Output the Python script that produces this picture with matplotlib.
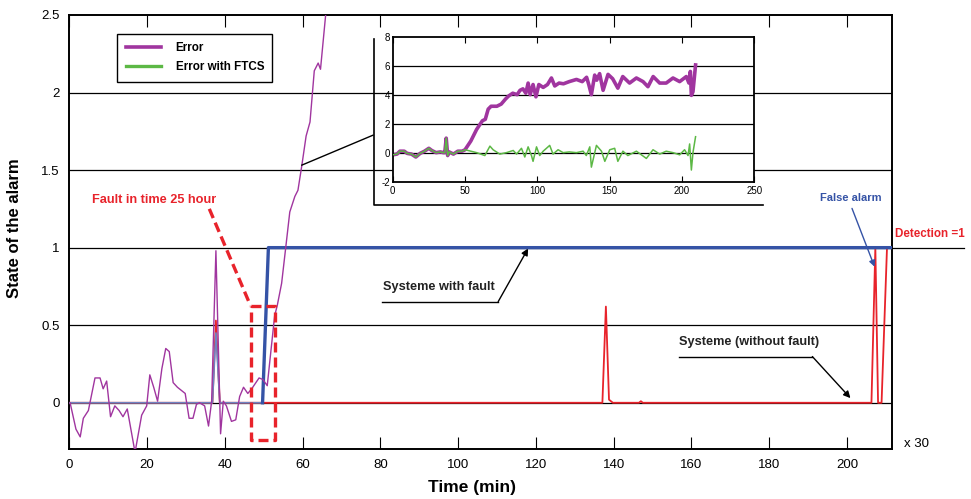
import matplotlib
matplotlib.use('Agg')
from matplotlib import pyplot as plt
from matplotlib.lines import Line2D

plt.rcParams['font.family'] = ['Liberation Sans', 'DejaVu Sans']
plt.rcParams['axes.unicode_minus'] = False

# error signal (main plot, thin purple)
err_t = [0.2, 1.7, 2.8, 3.6, 4.9, 6.6, 7.9, 8.7, 9.6, 10.6, 11.7, 12.8, 13.8, 14.9,
         16.9, 18.6, 19.9, 20.7, 21.7, 22.7, 23.8, 24.8, 25.7, 26.7, 27.8, 29.8,
         30.8, 31.8, 32.7, 33.5, 34.8, 35.8, 36.6, 37.7, 38.9, 39.6, 40.4, 41.7,
         42.8, 43.8, 44.8, 45.9, 46.9, 48.8, 49.8, 50.9, 52.8, 53.5, 54.6, 55.7,
         56.7, 58.0, 58.8, 59.8, 60.9, 61.9, 63.0, 64.0, 64.6, 66.0, 67.0]
err_v = [0.0, -0.17, -0.22, -0.10, -0.05, 0.16, 0.16, 0.09, 0.14, -0.09, -0.02, -0.05,
         -0.09, -0.04, -0.32, -0.08, -0.02, 0.18, 0.10, 0.01, 0.22, 0.35, 0.33, 0.13,
         0.10, 0.06, -0.10, -0.10, -0.01, 0.0, -0.02, -0.15, 0.01, 0.98, -0.20, 0.01,
         -0.02, -0.12, -0.11, 0.04, 0.10, 0.06, 0.09, 0.16, 0.15, 0.11, 0.56, 0.63,
         0.77, 1.01, 1.23, 1.33, 1.37, 1.53, 1.72, 1.81, 2.14, 2.19, 2.15, 2.52, 2.9]

# alarm state, system with fault (blue)
fault_t = [0, 36.8, 37.7, 38.7, 49.7, 51.2, 211.5]
fault_v = [0, 0, 0.45, 0, 0, 1, 1]

# alarm state, system without fault (red)
nofault_t = [0, 36.8, 37.7, 38.7, 137.1, 138.0, 138.8, 139.8, 146.5, 147.0, 147.5,
             206.3, 207.3, 208.0, 208.9, 210.3]
nofault_v = [0, 0, 0.53, 0, 0, 0.62, 0.02, 0, 0, 0.01, 0, 0, 1.0, 0, 0, 1.0]

# inset: error and error with FTCS
early_t = [0, 3, 5, 8, 10, 13, 16, 19, 22, 25, 27, 30, 33, 35, 36, 37, 38, 39, 42, 45, 48, 50]
early_v = [-0.15, -0.1, 0.1, 0.1, -0.05, -0.1, -0.3, -0.05, 0.1, 0.3, 0.15, 0.0, 0.05,
           0.0, 0.0, 1.0, -0.2, 0.05, -0.1, 0.1, 0.1, 0.2]
error_t = [54, 58, 62, 64, 66, 68, 72, 75, 78, 80, 83, 86, 88, 90, 92, 93.6, 95, 97, 99,
           101, 104, 107, 109.7, 112, 115, 118, 122, 127, 131, 134, 135.5, 137.3, 139.6,
           141, 143, 145.4, 148.8, 152, 155.6, 159, 163.7, 168.4, 173, 176.4, 180, 184.5,
           189, 193.7, 198.3, 202.9, 204.7, 205.7, 206.4, 207.5, 209.3]
error_v = [0.8, 1.6, 2.2, 2.3, 3.0, 3.2, 3.2, 3.35, 3.7, 3.9, 4.1, 4.0, 4.3, 4.4, 4.1, 4.8,
           4.0, 4.7, 3.85, 4.7, 4.5, 4.7, 5.15, 4.6, 4.8, 4.75, 4.9, 5.05, 4.9, 5.2, 4.7,
           4.0, 5.35, 5.0, 5.45, 4.3, 5.4, 5.1, 4.45, 5.25, 4.8, 5.15, 4.9, 4.55, 5.25,
           4.8, 4.8, 5.15, 4.9, 5.25, 4.8, 5.6, 3.95, 4.2, 6.05]
ftcs_t = [54, 58, 63.7, 67.2, 69.4, 74, 78.6, 83.3, 85.6, 89, 91.3, 93.6, 95.9, 97, 99.4,
          101.6, 104, 108.5, 110.8, 114.3, 117.8, 122, 127, 131.6, 133.8, 136.2, 137.3,
          140.8, 144.3, 146.6, 150, 153.4, 155.6, 159.1, 162.5, 168.4, 175.3, 179.9,
          184.5, 189, 193.7, 198.3, 201.7, 204.1, 205.2, 206.4, 207.5, 209.3]
ftcs_v = [0.1, 0.0, -0.2, 0.45, 0.2, -0.1, 0.0, 0.15, -0.1, 0.3, -0.3, 0.4, -0.2, -0.6,
          0.4, -0.2, 0.1, 0.5, -0.1, 0.2, 0.0, 0.05, 0.0, 0.1, -0.2, 0.4, -1.0, 0.5, 0.1,
          -0.6, 0.2, 0.3, -0.6, 0.1, -0.2, 0.1, -0.4, 0.2, -0.1, 0.1, 0.0, -0.15, 0.2,
          -0.2, 0.6, -1.2, 0.0, 1.1]

purple = '#a0359f'
green = '#5cb845'
red = '#e8232b'
blue = '#3553a6'

fig = plt.figure(figsize=(9.71, 4.99), dpi=100)
ax = fig.add_axes([0.0714, 0.0996, 0.8469, 0.8704])

for y in [0, 0.5, 1, 1.5, 2]:
    ax.axhline(y, color='black', lw=0.9, zorder=1)
# the y=1 line runs past the frame
ax.plot([211.5, 230], [1, 1], color='black', lw=0.9, clip_on=False)

ax.plot(nofault_t, nofault_v, color=red, lw=1.3, zorder=3)
ax.plot(fault_t[:5], fault_v[:5], color='#6f84c2', lw=1.2, zorder=4)
ax.plot(fault_t[4:], fault_v[4:], color=blue, lw=2.4, zorder=4)
ax.plot(err_t, err_v, color=purple, lw=1.0, zorder=5)

ax.set_xlim(0, 211.5)
ax.set_ylim(-0.3, 2.5)
ax.set_xticks(range(0, 201, 20))
ax.set_yticks([0, 0.5, 1, 1.5, 2, 2.5])
ax.set_yticklabels(['0', '0.5', '1', '1.5', '2', '2.5'])
ax.tick_params(axis='x', direction='in', length=8.5, top=True, labelsize=9.5, pad=7)
ax.tick_params(axis='y', length=0, labelsize=9.5, pad=7)
for s in ax.spines.values():
    s.set_linewidth(1.4)

ax.set_xlabel('Time (min)', fontsize=12.5, fontweight='bold', va='center')
ax.xaxis.set_label_coords(0.49, -0.087)
ax.set_ylabel('State of the alarm', fontsize=12, fontweight='bold', va='center')
ax.yaxis.set_label_coords(-0.067, 0.51)

# fault marker
ax.plot([46.6, 52.9, 52.9, 46.6, 46.6], [0.626, 0.626, -0.24, -0.24, 0.626],
        color=red, lw=2.4, ls=(0, (3, 1.5)), zorder=6, clip_on=False)
ax.plot([36.0, 46.6], [1.25, 0.626], color=red, lw=2.4, ls=(0, (3, 1.5)), zorder=6)
ax.text(5.8, 1.31, 'Fault in time 25 hour', color=red, fontsize=9.2,
        fontweight='bold', va='center')

ax.text(80.6, 0.745, 'Systeme with fault', fontsize=9.2, fontweight='bold',
        va='center', color='#222222')
ax.plot([80.3, 110.3], [0.652, 0.652], color='black', lw=1)
ax.annotate('', xy=(118, 0.995), xytext=(110.3, 0.652),
            arrowprops=dict(arrowstyle='-|>', color='black', lw=1, shrinkA=0, shrinkB=0,
                            mutation_scale=10))

ax.text(156.8, 0.39, 'Systeme (without fault)', fontsize=9.2, fontweight='bold',
        va='center', color='#222222')
ax.plot([156.8, 191.1], [0.298, 0.298], color='black', lw=1)
ax.annotate('', xy=(200.9, 0.03), xytext=(191.1, 0.298),
            arrowprops=dict(arrowstyle='-|>', color='black', lw=1, shrinkA=0, shrinkB=0,
                            mutation_scale=10))

ax.text(200.9, 1.32, 'False alarm', fontsize=8, fontweight='bold',
        va='center', ha='center', color=blue)
ax.annotate('', xy=(207.1, 0.877), xytext=(201.3, 1.253),
            arrowprops=dict(arrowstyle='-|>', color=blue, lw=1, shrinkA=0, shrinkB=0,
                            mutation_scale=9))

ax.text(212.4, 1.086, 'Detection =1', fontsize=8.4, fontweight='bold',
        va='center', color=red, clip_on=False)
ax.text(214.6, -0.264, 'x 30', fontsize=9.5, va='center', clip_on=False)

# bracket around the zoomed view and its pointer
ax.plot([78.3, 78.3, 178.3], [2.347, 1.274, 1.274], color='black', lw=1.2, zorder=2)
ax.plot([59.8, 78.1], [1.532, 1.725], color='black', lw=1, zorder=6)

legend_handles = [Line2D([], [], color=purple, lw=2.6),
                  Line2D([], [], color=green, lw=2.4)]
leg = ax.legend(legend_handles, ['Error', 'Error with FTCS'], loc='upper left',
                bbox_to_anchor=(0.0584, 0.9556), borderaxespad=0, fancybox=False,
                edgecolor='black', framealpha=1, handlelength=3.0, handletextpad=1.3,
                labelspacing=0.6, borderpad=0.7,
                prop=dict(weight='bold', size=8.4))
leg.get_frame().set_linewidth(1)

# inset
ins = fig.add_axes([0.4044, 0.636, 0.3726, 0.2905])
ins.set_facecolor('white')
for y in [0, 2, 4, 6]:
    ins.axhline(y, color='black', lw=0.9, zorder=1)
ins.plot(early_t + error_t, early_v + error_v, color=purple, lw=2.6, zorder=2)
ins.plot(early_t + ftcs_t, early_v + ftcs_v, color=green, lw=1.1, zorder=3)
ins.set_xlim(0, 250)
ins.set_ylim(-2, 8)
ins.set_xticks(range(0, 251, 50))
ins.set_yticks(range(-2, 9, 2))
ins.tick_params(axis='x', direction='in', length=4, top=True, labelsize=7, pad=3)
ins.tick_params(axis='y', direction='in', length=0, labelsize=7, pad=2)
for s in ins.spines.values():
    s.set_linewidth(1.3)

fig.savefig('out.png', dpi=100)
